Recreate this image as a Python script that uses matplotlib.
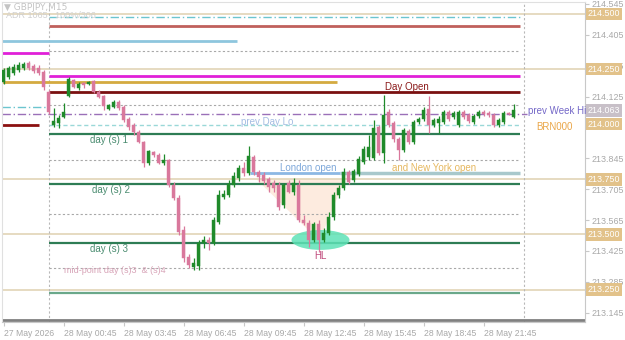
import matplotlib
matplotlib.use("Agg")
import matplotlib.pyplot as plt
import matplotlib.transforms as mtransforms
from matplotlib.patches import Ellipse, Polygon

plt.rcParams["font.family"] = ["Liberation Sans", "DejaVu Sans"]

# ── Data (GBPJPY M15, 27 May 21:45 -> 28 May 23:15) ───────────────────────────

opens = [214.191, 214.214, 214.232, 214.246, 214.255, 214.277, 214.264, 214.255, 214.237, 214.146,
         213.996, 214.005, 214.032, 214.128, 214.200, 214.164, 214.187, 214.182, 214.196, 214.146,
         214.128, 214.069, 214.078, 214.100, 214.078, 214.023, 213.996, 213.964, 213.919, 213.824,
         213.874, 213.860, 213.824, 213.837, 213.724, 213.665, 213.520, 213.398, 213.352, 213.357,
         213.461, 213.475, 213.461, 213.556, 213.670, 213.679, 213.724, 213.756, 213.801, 213.778,
         213.851, 213.783, 213.769, 213.751, 213.733, 213.724, 213.633, 213.733, 213.692, 213.724,
         213.565, 213.552, 213.475, 213.547, 213.475, 213.506, 213.579, 213.679, 213.710, 213.783,
         213.747, 213.774, 213.828, 213.851, 213.847, 213.987, 213.869, 214.055, 214.005, 213.933,
         213.883, 213.969, 213.919, 214.010, 214.023, 214.069, 213.996, 214.005, 214.010, 214.055,
         214.032, 213.996, 214.055, 214.041, 214.010, 214.037, 214.055, 214.051, 214.041, 213.996,
         214.010, 214.051, 214.032]
highs = [214.255, 214.264, 214.273, 214.282, 214.282, 214.286, 214.273, 214.268, 214.246, 214.155,
         214.073, 214.041, 214.096, 214.214, 214.205, 214.191, 214.191, 214.196, 214.200, 214.155,
         214.132, 214.091, 214.110, 214.110, 214.087, 214.032, 214.005, 213.973, 213.924, 213.883,
         213.878, 213.869, 213.865, 213.842, 213.738, 213.679, 213.538, 213.411, 213.393, 213.475,
         213.493, 213.488, 213.579, 213.701, 213.701, 213.747, 213.783, 213.815, 213.828, 213.901,
         213.860, 213.792, 213.783, 213.760, 213.747, 213.738, 213.733, 213.747, 213.756, 213.747,
         213.588, 213.565, 213.556, 213.565, 213.529, 213.602, 213.692, 213.724, 213.801, 213.792,
         213.797, 213.856, 213.901, 213.951, 214.019, 213.996, 214.132, 214.069, 214.014, 213.942,
         213.983, 213.978, 214.019, 214.032, 214.078, 214.128, 214.028, 214.037, 214.064, 214.064,
         214.060, 214.064, 214.064, 214.051, 214.046, 214.064, 214.064, 214.060, 214.051, 214.028,
         214.060, 214.055, 214.091]
lows = [214.182, 214.205, 214.223, 214.237, 214.246, 214.246, 214.232, 214.223, 214.155, 214.046,
        213.987, 213.983, 214.028, 214.123, 214.164, 214.155, 214.164, 214.178, 214.141, 214.119,
        214.064, 214.064, 214.073, 214.064, 214.010, 213.973, 213.951, 213.915, 213.806, 213.815,
        213.851, 213.819, 213.815, 213.715, 213.656, 213.497, 213.375, 213.348, 213.339, 213.339,
        213.438, 213.429, 213.452, 213.547, 213.661, 213.670, 213.715, 213.742, 213.765, 213.769,
        213.769, 213.738, 213.729, 213.692, 213.692, 213.611, 213.620, 213.688, 213.679, 213.556,
        213.543, 213.443, 213.466, 213.420, 213.466, 213.497, 213.565, 213.665, 213.701, 213.729,
        213.738, 213.765, 213.819, 213.837, 213.837, 213.860, 213.824, 213.987, 213.919, 213.837,
        213.874, 213.910, 213.910, 214.001, 214.014, 213.960, 213.987, 213.960, 214.001, 214.014,
        214.023, 213.987, 214.023, 214.005, 214.001, 214.028, 214.037, 214.032, 213.987, 213.987,
        214.001, 214.041, 214.028]
closes = [214.246, 214.255, 214.259, 214.268, 214.273, 214.255, 214.241, 214.232, 214.168, 214.055,
          214.014, 214.028, 214.055, 214.205, 214.168, 214.182, 214.178, 214.191, 214.146, 214.123,
          214.082, 214.087, 214.100, 214.073, 214.019, 213.987, 213.964, 213.919, 213.824, 213.878,
          213.860, 213.824, 213.837, 213.724, 213.665, 213.511, 213.393, 213.361, 213.370, 213.461,
          213.475, 213.461, 213.565, 213.679, 213.683, 213.729, 213.765, 213.801, 213.778, 213.856,
          213.783, 213.760, 213.742, 213.715, 213.710, 213.624, 213.724, 213.692, 213.733, 213.565,
          213.552, 213.475, 213.547, 213.475, 213.506, 213.579, 213.679, 213.710, 213.783, 213.738,
          213.788, 213.842, 213.887, 213.896, 213.983, 213.869, 214.041, 213.996, 213.933, 213.883,
          213.973, 213.919, 214.010, 214.023, 214.064, 213.996, 214.019, 214.023, 214.055, 214.023,
          214.051, 214.055, 214.032, 214.014, 214.037, 214.055, 214.046, 214.041, 213.996, 214.019,
          214.051, 214.046, 214.064]

time_ticks = [0, 12, 24, 36, 48, 60, 72, 84, 96]
time_labels = ["27 May 2026", "28 May 00:45", "28 May 03:45", "28 May 06:45", "28 May 09:45",
               "28 May 12:45", "28 May 15:45", "28 May 18:45", "28 May 21:45"]

price_ticks = [214.545, 214.405, 214.265, 214.125, 213.845, 213.705, 213.565, 213.425, 213.285, 213.145]
round_levels = [214.500, 214.250, 214.000, 213.750, 213.500, 213.250]
bid_price = 214.063

day_start = 9          # 28 May 00:00 bar
line_end = 103.2
day_open = 214.146
prev_week_hi = 214.046
prev_day_lo = 213.996
sessions_open = 213.778
day_s = [213.955, 213.729, 213.461, 213.234]
dotted_levels = [214.332, 214.087, 213.837, 213.593, 213.348]

# ── Figure ────────────────────────────────────────────────────────────────────

fig = plt.figure(figsize=(6.25, 3.4), dpi=100)
ax = fig.add_axes([2 / 625, 18 / 340, 583 / 625, 320 / 340])
ax.set_xlim(-0.3, 116.3)
ax.set_ylim(213.103, 214.554)

for s in ["top", "left"]:
    ax.spines[s].set_color("#e0e0e0")
for s in ["right", "bottom"]:
    ax.spines[s].set_color("#c8c8c8")

right = ax.get_xlim()[1]
left = ax.get_xlim()[0]

# round number levels
for lv in round_levels:
    if lv == 214.0:
        continue
    ax.hlines(lv, left, right, color="#e4d8bc", lw=1.3, zorder=1)

# dotted pivots
for lv in dotted_levels:
    ax.hlines(lv, day_start, line_end, color="#a8a8a8", lw=0.8, ls=(0, (2, 2)), zorder=1)

# session lines / levels
ax.hlines(214.486, day_start, line_end, color="#6cc5cf", lw=1, ls=(0, (6, 2, 1, 2)), zorder=2)
ax.hlines(214.445, day_start, line_end, color="#c0605c", lw=2, zorder=2)
ax.hlines(214.377, left, 46.6, color="#8ec6de", lw=2, zorder=2)
ax.hlines(214.323, left, day_start, color="#e020d8", lw=2, zorder=2)
ax.hlines(214.218, day_start, line_end, color="#e020d8", lw=2, zorder=2)
ax.hlines(214.191, left, 66.6, color="#d4aa40", lw=2, zorder=2)
ax.hlines(day_open, day_start, line_end, color="#7a1010", lw=2, zorder=2)
ax.hlines(214.078, left, 8.6, color="#6cc5cf", lw=1, ls=(0, (6, 2, 1, 2)), zorder=2)
ax.hlines(prev_week_hi, left, 104.6, color="#9a70b8", lw=1, ls=(0, (6, 2, 1, 2)), zorder=2)
ax.hlines(prev_day_lo, day_start, line_end, color="#9ad8d8", lw=1, ls=(0, (3, 2)), zorder=2)
ax.hlines(prev_day_lo, left, 7, color="#8b1010", lw=2, zorder=2)
ax.hlines(sessions_open, 49.2, 67.2, color="#8cb8e4", lw=2, zorder=2)
ax.hlines(sessions_open, 67.2, line_end, color="#a8c8cc", lw=2.5, zorder=2)
for k, lv in enumerate(day_s):
    ax.hlines(lv, day_start, line_end, color="#2e7d55" if k < 3 else "#6aa88a",
              lw=1.6, zorder=2)
ax.hlines(213.112, left, right, color="#808080", lw=2, zorder=2)

# day separators
ax.axvline(day_start, color="#b8b8b8", lw=0.8, ls=(0, (2, 2)), zorder=1)
ax.axvline(104, color="#b8b8b8", lw=0.8, ls=(0, (2, 2)), zorder=1)

# shaded zone and HL marker
tri = Polygon([(50.5, 213.752), (68.3, 213.752), (63.2, 213.47)], closed=True,
              fc="#fde6d8", ec="none", alpha=0.8, zorder=0.5)
ax.add_patch(tri)
ax.add_patch(Ellipse((63.4, 213.475), 11.6, 0.09, fc="#5ee2b6", ec="none", alpha=0.85, zorder=2.5))

# ── Candles ───────────────────────────────────────────────────────────────────

bull, bear = "#1f8a2a", "#d9789c"
for i, (o, h, l, c) in enumerate(zip(opens, highs, lows, closes)):
    col = bull if c >= o else bear
    ax.vlines(i, l, h, color=col, lw=0.9, zorder=3)
    ax.bar(i, max(abs(c - o), 0.003), bottom=min(o, c), width=0.66, color=col,
           edgecolor=col, lw=0.3, zorder=4)

# ── Labels ────────────────────────────────────────────────────────────────────

fs = 7
ax.text(76.3, 214.168, "Day Open", color="#8b1a1a", fontsize=fs, va="center", zorder=5)
ax.text(105, prev_week_hi + 0.016, "prev Week Hi", color="#7468c8", fontsize=fs, va="center", zorder=5)
ax.text(106.6, 213.988, "BRN000", color="#eaa648", fontsize=fs, va="center", zorder=5)
ax.text(47.5, 214.008, "prev Day Lo", color="#a4bce2", fontsize=fs, va="center", zorder=5)
ax.text(55.2, 213.800, "London open", color="#7ea8da", fontsize=fs, va="center", zorder=5)
ax.text(77.8, 213.800, "and New York open", color="#e6b860", fontsize=fs, va="center", zorder=5)
for lbl, lv, xx in [("day (s) 1", day_s[0], 17.2), ("day (s) 2", day_s[1], 17.6),
                    ("day (s) 3", day_s[2], 17.2)]:
    ax.text(xx, lv - 0.027, lbl, color="#4a8c70", fontsize=fs, va="center", zorder=5)
ax.text(12, 213.338, "mid-point day (s)3  & (s)4", color="#d8a4b8", fontsize=fs - 0.5,
        va="center", zorder=5)
ax.text(63.4, 213.403, "HL", color="#c04a7c", fontsize=fs, ha="center", va="center", zorder=5)

ax.text(0.2, 214.530, "\u25bc GBPJPY,M15", color="#c4c4c4", fontsize=6.5, va="center", zorder=5,
        family=["DejaVu Sans"])
ax.text(0.4, 214.492, "ADR 1065   100%/306", color="#d0d0d0", fontsize=6.5, va="center", zorder=5)

# ── Axes ──────────────────────────────────────────────────────────────────────

ax.yaxis.tick_right()
ax.set_yticks(price_ticks)
ax.set_yticklabels([f"{p:.3f}" for p in price_ticks])
ax.tick_params(axis="y", labelsize=6.4, labelcolor="#a8a8a8", color="#c8c8c8", length=3, pad=2)

ax.set_xticks(time_ticks)
ax.set_xticklabels(time_labels, ha="left")
ax.tick_params(axis="x", labelsize=6.2, labelcolor="#a8a8a8", color="#c8c8c8", length=3, pad=2)

trans = mtransforms.blended_transform_factory(ax.transAxes, ax.transData)
for lv in round_levels:
    ax.text(1.005, lv, f"{lv:.3f}", transform=trans, color="white", fontsize=6.4,
            va="center", ha="left", clip_on=False, zorder=6,
            bbox=dict(boxstyle="square,pad=0.2", fc="#e2c28a", ec="none"))
ax.text(1.005, bid_price, f"{bid_price:.3f}", transform=trans, color="white", fontsize=6.4,
        va="center", ha="left", clip_on=False, zorder=6,
        bbox=dict(boxstyle="square,pad=0.2", fc="#c8c0c8", ec="none"))

fig.savefig("out.png", dpi=100)
